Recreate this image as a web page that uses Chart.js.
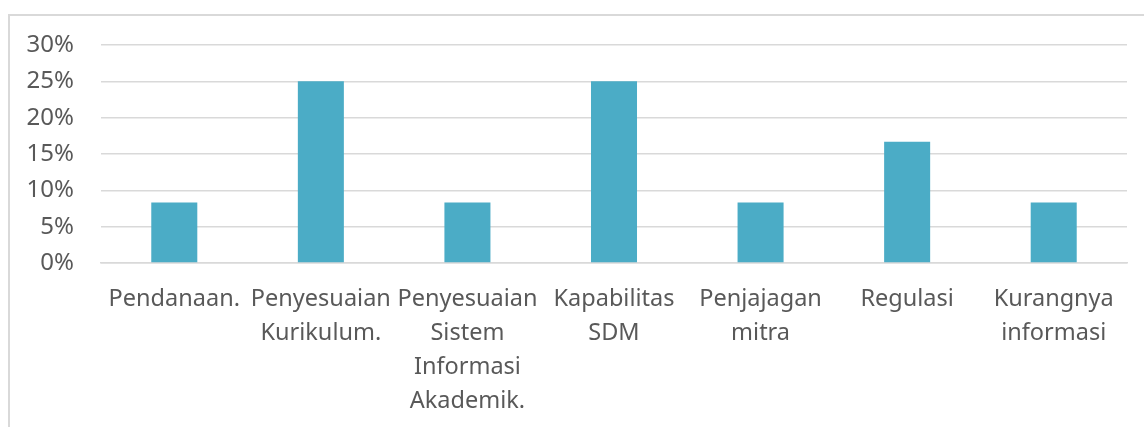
<!DOCTYPE html>
<html>
<head>
<meta charset="utf-8">
<script src="https://cdn.jsdelivr.net/npm/chart.js@4.4.1/dist/chart.umd.min.js"></script>
<style>
  html, body { margin: 0; padding: 0; background: #fff; overflow: hidden; }
  #wrap { position: absolute; left: 0; top: 0; width: 1144px; height: 427px; }
  #frame { position: absolute; left: 8px; top: 14px; width: 1200px; height: 500px;
           border-left: 2px solid #d9d9d9; border-top: 2px solid #d9d9d9; }
</style>
</head>
<body>
<div id="frame"></div>
<div id="wrap"><canvas id="grafik"></canvas></div>
<script>
// Kategori (label sumbu x, dipecah per baris)
const kategori = [
  ["Pendanaan."],
  ["Penyesuaian", "Kurikulum."],
  ["Penyesuaian", "Sistem", "Informasi", "Akademik."],
  ["Kapabilitas", "SDM"],
  ["Penjajagan", "mitra"],
  ["Regulasi"],
  ["Kurangnya", "informasi"]
];

// Persentase per kategori (%)
const persentase = [8.33, 25, 8.33, 25, 8.33, 16.67, 8.33];

// Tick sumbu y
const yMin = 0;
const yMax = 30;
const yStep = 5;

const fontLabel = { family: "'Noto Sans', Lato, sans-serif", size: 23.5, lineHeight: 1.447 };

new Chart(document.getElementById("grafik"), {
  type: "bar",
  data: {
    labels: kategori,
    datasets: [{
      data: persentase,
      backgroundColor: "#4bacc6",
      borderWidth: 0,
      barPercentage: 0.314,
      categoryPercentage: 1
    }]
  },
  options: {
    responsive: true,
    maintainAspectRatio: false,
    animation: false,
    layout: { padding: { left: 0, right: 17, top: 45, bottom: 0 } },
    plugins: { legend: { display: false }, tooltip: { enabled: false } },
    scales: {
      x: {
        grid: { display: false, drawTicks: false },
        border: { display: true, color: "#d9d9d9", width: 1.5 },
        ticks: { color: "#595959", font: fontLabel, padding: 19, maxRotation: 0, autoSkip: false },
        afterFit: (s) => { s.height = 164; }
      },
      y: {
        min: yMin,
        max: yMax,
        grid: { color: "#d9d9d9", lineWidth: 1.5, drawTicks: false },
        border: { display: false },
        ticks: {
          stepSize: yStep,
          color: "#595959",
          font: { family: fontLabel.family, size: 24 },
          padding: 27,
          callback: (v) => v + "%"
        },
        afterFit: (s) => { s.width = 101; }
      }
    }
  }
});
</script>
</body>
</html>
